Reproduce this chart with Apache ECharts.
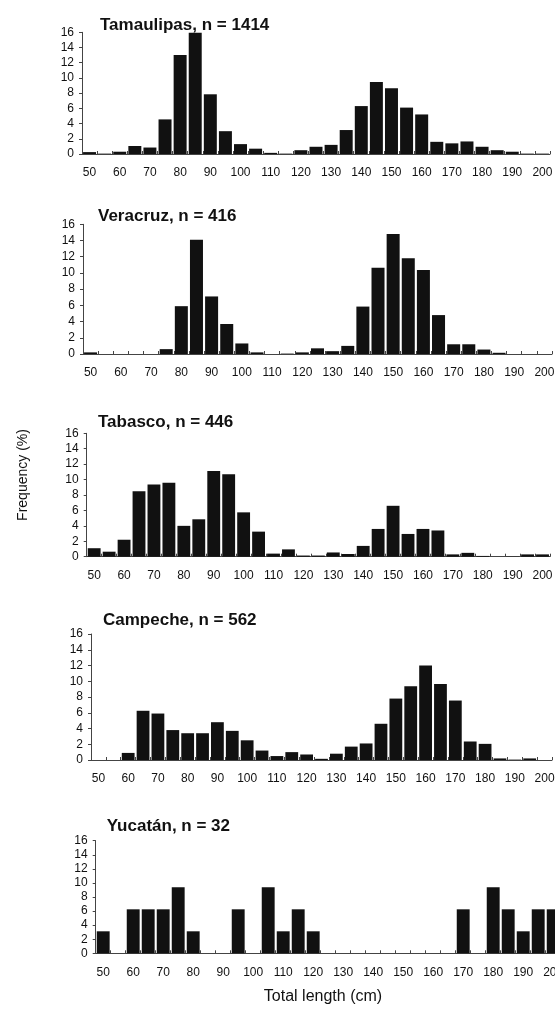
<!DOCTYPE html>
<html>
<head>
<meta charset="utf-8">
<script src="https://cdn.jsdelivr.net/npm/echarts@6/dist/echarts.min.js"></script>
<style>
    html, body { margin: 0; padding: 0; background: #fff; }
    #chart { width: 555px; height: 1012px; }
</style>
</head>
<body>
<div id="chart"></div>
<script>
// length classes (cm), one bar per class
let lengthBins = ['50', '55', '60', '65', '70', '75', '80', '85', '90', '95', '100', '105', '110', '115', '120', '125',
    '130', '135', '140', '145', '150', '155', '160', '165', '170', '175', '180', '185', '190', '195', '200'];
let freqTicks = [0, 2, 4, 6, 8, 10, 12, 14, 16];

// frequency (%) per state
let tamaulipas = [0.25, 0.05, 0.3, 1.05, 0.85, 4.55, 13.0, 15.95, 7.85, 3.0, 1.3, 0.7, 0.15, 0.05, 0.5, 0.95,
    1.2, 3.15, 6.3, 9.45, 8.65, 6.1, 5.2, 1.6, 1.4, 1.65, 0.95, 0.5, 0.3, 0.05, 0.05];
let veracruz = [0.2, 0, 0, 0, 0, 0.6, 5.9, 14.1, 7.1, 3.7, 1.3, 0.2, 0, 0.05, 0.2, 0.7,
    0.35, 1.0, 5.85, 10.65, 14.8, 11.8, 10.35, 4.8, 1.2, 1.2, 0.55, 0.15, 0, 0, 0];
let tabasco = [1.1, 0.65, 2.2, 8.5, 9.35, 9.6, 4.0, 4.85, 11.1, 10.7, 5.75, 3.25, 0.4, 0.95, 0.15, 0.15,
    0.55, 0.35, 1.4, 3.6, 6.6, 2.95, 3.6, 3.4, 0.3, 0.5, 0.1, 0, 0.02, 0.3, 0.3];
let campeche = [0, 0, 0.9, 6.25, 5.9, 3.8, 3.4, 3.4, 4.8, 3.7, 2.5, 1.2, 0.5, 1.0, 0.7, 0.15,
    0.8, 1.7, 2.1, 4.6, 7.8, 9.35, 12.0, 9.65, 7.55, 2.35, 2.05, 0.2, 0.05, 0.2, 0];
let yucatan = [3.125, 0, 6.25, 6.25, 6.25, 9.375, 3.125, 0, 0, 6.25, 0, 9.375, 3.125, 6.25, 3.125, 0,
    0, 0, 0, 0, 0, 0, 0, 0, 6.25, 0, 9.375, 6.25, 3.125, 6.25, 6.25];

let panelNames = ['Tamaulipas, n = 1414', 'Veracruz, n = 416', 'Tabasco, n = 446', 'Campeche, n = 562', 'Yucatán, n = 32'];
let panelData = [tamaulipas, veracruz, tabasco, campeche, yucatan];

// grid placement of each panel (px); the last one runs past the right edge
let panelBoxes = [
    {left: 82, width: 468, top: 32.3, height: 121.7, titleX: 100, titleY: 25},
    {left: 83, width: 469, top: 224.3, height: 129.7, titleX: 98, titleY: 216.7},
    {left: 86.7, width: 463.3, top: 433.3, height: 123.4, titleX: 98, titleY: 422},
    {left: 91, width: 461, top: 634, height: 126, titleX: 103, titleY: 620.7},
    {left: 95.7, width: 465, top: 840.7, height: 112.6, titleX: 106.7, titleY: 826}
];

let inkColor = '#111';
let axisColor = '#444';
let fontName = 'Liberation Sans, Arial';

let chart = echarts.init(document.getElementById('chart'));

let grids = [], xAxes = [], yAxes = [], series = [], titles = [];
for (let i = 0; i < panelData.length; i++) {
    let box = panelBoxes[i];
    grids.push({left: box.left, width: box.width, top: box.top, height: box.height, outerBoundsMode: 'none'});
    titles.push({
        text: panelNames[i],
        left: box.titleX,
        top: box.titleY - 9,
        padding: 0,
        textStyle: {fontFamily: fontName, fontWeight: 'bold', fontSize: 17, lineHeight: 18, color: inkColor}
    });
    xAxes.push({
        type: 'category',
        gridIndex: i,
        data: lengthBins,
        boundaryGap: true,
        axisLine: {lineStyle: {color: axisColor, width: 1}},
        axisTick: {show: true, inside: true, length: 3, interval: 0, lineStyle: {color: axisColor}},
        axisLabel: {interval: 1, margin: 13, fontFamily: fontName, fontSize: 12, color: inkColor}
    });
    yAxes.push({
        type: 'value',
        gridIndex: i,
        min: freqTicks[0],
        max: freqTicks[freqTicks.length - 1],
        interval: 2,
        splitLine: {show: false},
        axisLine: {show: true, lineStyle: {color: axisColor, width: 1}},
        axisTick: {show: true, length: 3, lineStyle: {color: axisColor}},
        axisLabel: {margin: 8, fontFamily: fontName, fontSize: 12, color: inkColor}
    });
    series.push({
        type: 'bar',
        xAxisIndex: i,
        yAxisIndex: i,
        data: panelData[i],
        barCategoryGap: '14%',
        itemStyle: {color: inkColor},
        silent: true
    });
}

chart.setOption({
    backgroundColor: '#fff',
    animation: false,
    title: titles,
    grid: grids,
    xAxis: xAxes,
    yAxis: yAxes,
    series: series,
    graphic: [
        {
            type: 'text',
            x: 23, y: 475,
            rotation: Math.PI / 2,
            style: {text: 'Frequency (%)', font: '14px ' + fontName, fill: inkColor, align: 'center', verticalAlign: 'middle'}
        },
        {
            type: 'text',
            x: 323, y: 997,
            style: {text: 'Total length (cm)', font: '16px ' + fontName, fill: inkColor, align: 'center', verticalAlign: 'middle'}
        }
    ]
});
</script>
</body>
</html>
